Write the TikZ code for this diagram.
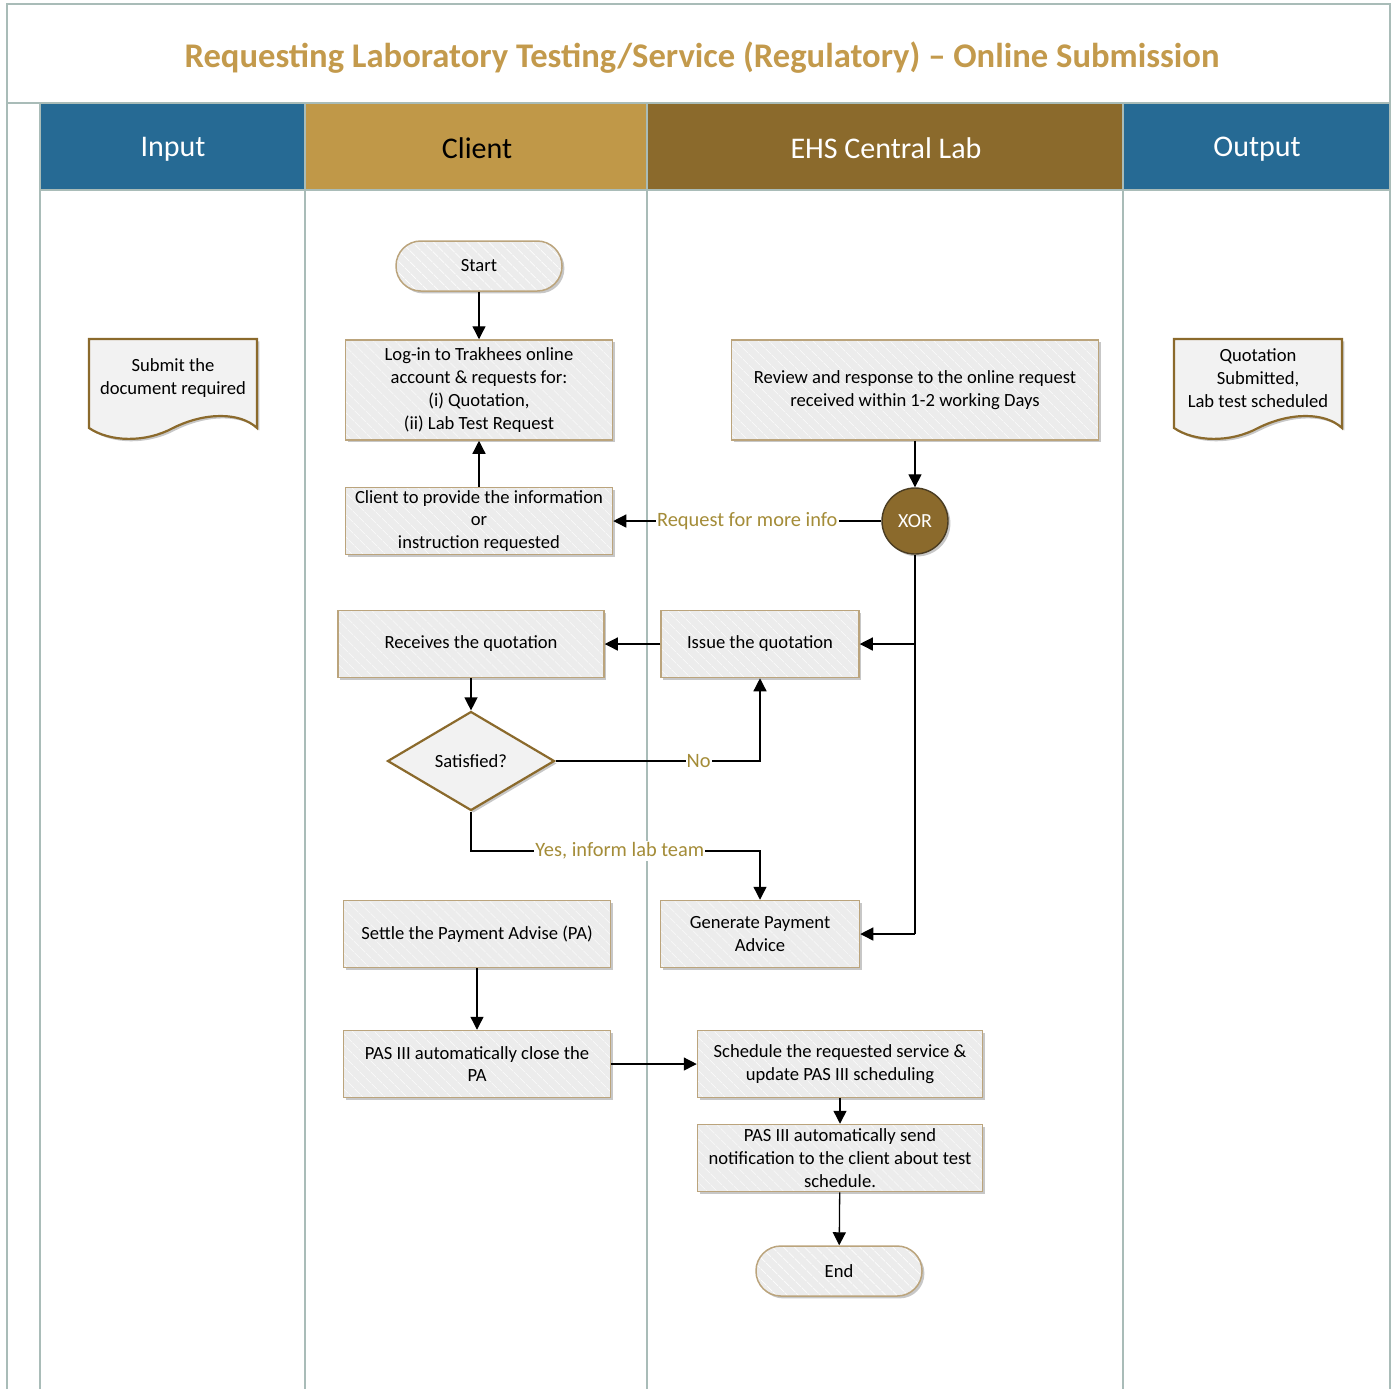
\documentclass[tikz,border=0pt]{standalone}
\usepackage{fontspec}
\setmainfont{Carlito}
\usetikzlibrary{shapes.geometric,arrows.meta,patterns.meta,shadows}
\definecolor{laneline}{HTML}{A9BCB8}
\definecolor{hblue}{HTML}{266A94}
\definecolor{hgold}{HTML}{C09848}
\definecolor{hbrown}{HTML}{8B6A2C}
\definecolor{titlec}{HTML}{C39A4C}
\definecolor{boxborder}{HTML}{BBA47C}
\definecolor{boxfill}{HTML}{ECECEC}
\definecolor{docfill}{HTML}{F2F2F2}
\definecolor{labelc}{HTML}{A48C38}
\definecolor{xorborder}{HTML}{4A3C22}
\begin{document}
\begin{tikzpicture}[x=0.5pt,y=-0.5pt,
  shadowed/.style={drop shadow={shadow xshift=1.2pt,shadow yshift=-1.2pt,opacity=0.22,fill=black}},
  procbox/.style={draw=boxborder, line width=0.75pt, inner sep=1pt, align=center,
    font=\fontsize{9.3}{11.4}\selectfont, shadowed,
    preaction={fill=boxfill},
    preaction={pattern={Lines[angle=-45,distance=4pt,line width=0.3pt]},pattern color=white}},
  term/.style={procbox, rounded corners=12.4pt, minimum width=83pt, minimum height=25pt},
  decision/.style={diamond, draw=hbrown, line width=1.1pt, fill=docfill, inner sep=0pt,
    minimum width=83.5pt, minimum height=49.5pt, font=\fontsize{9.3}{11.4}\selectfont, shadowed},
  gate/.style={circle, draw=xorborder, line width=0.7pt, fill=hbrown, text=white, inner sep=0pt,
    minimum size=33pt, font=\fontsize{10}{12}\selectfont, shadowed},
  docshape/.style={draw=hbrown, line width=1.1pt, fill=docfill, shadowed},
  doctext/.style={align=center, font=\fontsize{9.3}{11.4}\selectfont, inner sep=0pt},
  header/.style={font=\fontsize{15}{17}\selectfont},
  arr/.style={draw=black, line width=0.65pt, -{Triangle[length=6.5pt,width=6.5pt]}},
  plain/.style={draw=black, line width=0.65pt},
  lbl/.style={fill=white, text=labelc, inner sep=0.6pt, font=\fontsize{10.2}{12}\selectfont}
]
\useasboundingbox (0,0) rectangle (1397,1389);
% headers
\fill[hblue] (40,104) rectangle (305,190);
\fill[hgold] (305,104) rectangle (647,190);
\fill[hbrown] (647,104) rectangle (1123,190);
\fill[hblue] (1123,104) rectangle (1390,190);
% frame and lanes
\draw[laneline, line width=1.1pt] (7,1389) -- (7,4) -- (1390,4) -- (1390,1389);
\draw[laneline, line width=1.1pt] (7,103) -- (1390,103);
\draw[laneline, line width=1.1pt] (40,190) -- (1390,190);
\foreach \xx in {40,305,647,1123}{
  \draw[laneline, line width=1.1pt] (\xx,104) -- (\xx,1389);
}
% title and headers text
\node[text=titlec, font=\fontsize{17.3}{19}\selectfont\bfseries] (title) at (702,58)
  {Requesting Laboratory Testing/Service (Regulatory) – Online Submission};
\node[header, text=white] (hinput) at (173,149) {Input};
\node[header, text=black] (hclient) at (477,148) {Client};
\node[header, text=white] (hehs) at (886,148) {EHS Central Lab};
\node[header, text=white] (houtput) at (1257,149) {Output};
% documents
\draw[docshape] (89,339) -- (257,339) -- (257,428) .. controls (240,412) and (205,412) .. (173,428)
   .. controls (145,443) and (110,442) .. (89,428) -- cycle;
\node[doctext] (submit) at (173,378) {Submit the\\document required};
\draw[docshape] (1174,339) -- (1342,339) -- (1342,428) .. controls (1325,412) and (1290,412) .. (1258,428)
   .. controls (1230,443) and (1195,442) .. (1174,428) -- cycle;
\node[doctext] (quotdoc) at (1258,378) {Quotation\\Submitted,\\Lab test scheduled};
% nodes
\node[term] (start) at (479,266) {Start};
\node[procbox, minimum width=133.5pt, minimum height=50pt] (login) at (479,390)
  {Log-in to Trakhees online\\account \& requests for:\\(i) Quotation,\\(ii) Lab Test Request};
\node[procbox, minimum width=133.5pt, minimum height=33.5pt] (info) at (479,521)
  {Client to provide the information\\or\\instruction requested};
\node[procbox, minimum width=183.5pt, minimum height=50pt] (review) at (915,390)
  {Review and response to the online request\\received within 1-2 working Days};
\node[gate] (xor) at (915,521) {XOR};
\node[procbox, minimum width=133pt, minimum height=33.5pt] (receive) at (471,644) {Receives the quotation};
\node[procbox, minimum width=99pt, minimum height=33.5pt] (issue) at (760,644) {Issue the quotation};
\node[decision] (sat) at (471,761) {Satisfied?};
\node[procbox, minimum width=133.5pt, minimum height=33.5pt] (settle) at (477,934) {Settle the Payment Advise (PA)};
\node[procbox, minimum width=99.5pt, minimum height=33.5pt] (gen) at (760,934) {Generate Payment\\Advice};
\node[procbox, minimum width=133.5pt, minimum height=33.5pt] (close) at (477,1064) {PAS III automatically close the\\PA};
\node[procbox, minimum width=142.5pt, minimum height=33.5pt] (sched) at (840,1064) {Schedule the requested service \&\\update PAS III scheduling};
\node[procbox, minimum width=142.5pt, minimum height=33.5pt] (notify) at (840,1158) {PAS III automatically send\\notification to the client about test\\schedule.};
\node[term] (end) at (839,1271) {End};
% junctions
\coordinate (j1) at (915,644);
\coordinate (j2) at (915,934);
\coordinate (nocorner) at (760,761);
\coordinate (y1) at (471,851);
\coordinate (y2) at (760,851);
% connectors
\draw[arr] (start) -- (login);
\draw[arr] (info) -- (login);
\draw[arr] (review) -- (xor);
\draw[arr] (xor) -- node[lbl, pos=0.5] (reqlbl) {Request for more info} (info);
\draw[plain] (xor) -- (j2);
\draw[arr] (j1) -- (issue);
\draw[arr] (j2) -- (gen);
\draw[arr] (issue) -- (receive);
\draw[arr] (receive) -- (sat);
\draw[arr] (sat.east) -- node[lbl, pos=0.7] (nolbl) {No} (nocorner) -- (issue.south);
\draw[arr] (sat.south) -- (y1) -- node[lbl, pos=0.515] (yeslbl) {Yes, inform lab team} (y2) -- (gen.north);
\draw[arr] (settle) -- (close);
\draw[arr] (close) -- (sched);
\draw[arr] (sched) -- (notify);
\draw[arr] (notify) -- (end);
\end{tikzpicture}
\end{document}
